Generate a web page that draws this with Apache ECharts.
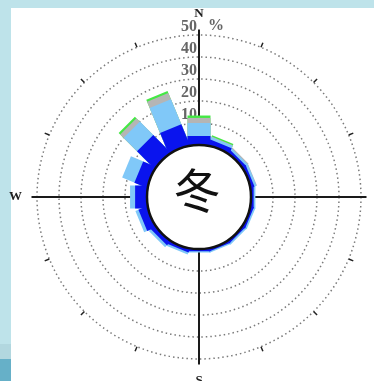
<!DOCTYPE html>
<html>
<head>
<meta charset="utf-8">
<script src="https://cdn.jsdelivr.net/npm/echarts@6/dist/echarts.min.js"></script>
<style>
  html, body { margin: 0; padding: 0; }
  body {
    width: 374px; height: 381px; position: relative; overflow: hidden;
    background: linear-gradient(to bottom, #bee3ea 0, #bee3ea 344px, #b2d7df 344px, #b2d7df 359px, #66b0c8 359px);
  }
  #panel { position: absolute; left: 11px; top: 8px; right: 0; bottom: 0; background: #fff; }
  #chart { position: absolute; left: 0; top: 0; width: 374px; height: 381px; }
</style>
</head>
<body>
<div id="panel"></div>
<div id="chart"></div>
<script>
// wind directions, clockwise from north
const directions = ['N', 'NNE', 'NE', 'ENE', 'E', 'ESE', 'SE', 'SSE', 'S', 'SSW', 'SW', 'WSW', 'W', 'WNW', 'NW', 'NNW']
const cardinals = ['N', 'E', 'S', 'W']
const season = '冬'

// frequency (%) per speed class, innermost first
const darkBlue  = [4.1, 2.5, 1.5, 1.5, 1.2, 1.2, 1.0, 1.0, 1.0, 1.5, 2.2, 4.0, 5.4, 6.0, 11.0, 10.0]
const lightBlue = [5.9, 1.2, 1.0, 1.0, 0.8, 0.8, 0.8, 0.6, 0.6, 1.0, 1.2, 1.5, 2.3, 6.0, 8.6, 12.3]
const gray      = [2.3, 0.3, 0.5, 0.2, 0, 0, 0, 0, 0, 0, 0, 0, 0, 0, 2.2, 3.1]
const green     = [1.1, 0.6, 0, 0, 0, 0, 0, 0, 0, 0, 0, 0, 0, 0, 1.0, 1.0]

const HALF_W = 11.5 // half bar width in px

const angles = directions.map((d, i) => i * 22.5)

// cumulative tops for stacking
const top1 = darkBlue
const top2 = top1.map((v, i) => v + lightBlue[i])
const top3 = top2.map((v, i) => v + gray[i])
const top4 = top3.map((v, i) => v + green[i])

function rectBar(color) {
  return function (params, api) {
    const seg = api.value(2)
    if (!seg) return null
    const ang = api.value(1)
    const top = api.value(0)
    const a = api.coord([0, ang])
    const b = api.coord([50, ang])
    const len = Math.hypot(b[0] - a[0], b[1] - a[1])
    const nx = -(b[1] - a[1]) / len * HALF_W
    const ny = (b[0] - a[0]) / len * HALF_W
    const p0 = api.coord([-1.5, ang])
    const p1 = api.coord([top, ang])
    return {
      type: 'polygon',
      shape: {
        points: [
          [p0[0] + nx, p0[1] + ny],
          [p1[0] + nx, p1[1] + ny],
          [p1[0] - nx, p1[1] - ny],
          [p0[0] - nx, p0[1] - ny]
        ]
      },
      style: { fill: color }
    }
  }
}

function barSeries(name, color, tops, seg) {
  return {
    type: 'custom',
    name: name,
    coordinateSystem: 'polar',
    dimensions: ['top', 'angle', 'seg'],
    encode: { radius: 0, angle: 1 },
    data: angles.map((a, i) => [tops[i], a, seg[i]]),
    renderItem: rectBar(color),
    silent: true
  }
}

const chart = echarts.init(document.getElementById('chart'))

chart.setOption({
  animation: false,
  polar: { center: [199, 197], radius: [52, 162] },
  angleAxis: {
    type: 'value',
    min: 0,
    max: 360,
    interval: 22.5,
    startAngle: 90,
    clockwise: true,
    axisLine: { show: false },
    splitLine: { show: false },
    axisTick: { show: true, length: 5, lineStyle: { color: '#222', width: 1.5 } },
    axisLabel: {
      margin: 15,
      fontFamily: 'Liberation Serif',
      fontWeight: 'bold',
      fontSize: 13,
      color: '#222',
      formatter: function (v) {
        if (v >= 360) return ''
        const name = directions[Math.round(v / 22.5)]
        return cardinals.indexOf(name) >= 0 ? name : ''
      }
    }
  },
  radiusAxis: {
    min: 0,
    max: 50,
    interval: 10,
    axisLine: { show: false },
    axisTick: { show: false },
    splitLine: { show: true, lineStyle: { color: '#7a7a7a', width: 1.5, type: [1.5, 3] } },
    axisLabel: {
      showMinLabel: false,
      margin: 2,
      verticalAlign: 'bottom',
      fontFamily: 'Liberation Serif',
      fontWeight: 'bold',
      fontSize: 16,
      color: '#666'
    }
  },
  series: [
    {
      type: 'custom',
      name: 'cross',
      coordinateSystem: 'polar',
      encode: { radius: 0, angle: 1 },
      data: [[52.5, 0], [52.5, 90], [52.5, 180], [52.5, 270]],
      renderItem: function (params, api) {
        const p0 = api.coord([0, api.value(1)])
        const p1 = api.coord([api.value(0), api.value(1)])
        return {
          type: 'line',
          shape: { x1: p0[0], y1: p0[1], x2: p1[0], y2: p1[1] },
          style: { stroke: '#1a1a1a', lineWidth: 2 }
        }
      },
      silent: true
    },
    barSeries('green', '#44e844', top4, green),
    barSeries('gray', '#b5b5b5', top3, gray),
    barSeries('light', '#80c8f8', top2, lightBlue),
    barSeries('dark', '#0a14ee', top1, darkBlue)
  ],
  graphic: [
    {
      type: 'circle',
      z: 100,
      shape: { cx: 199, cy: 197, r: 52 },
      style: { fill: '#fff', stroke: '#111', lineWidth: 2.5 }
    },
    {
      type: 'text',
      z: 101,
      x: 197,
      y: 190,
      style: {
        text: season,
        fontSize: 47,
        fontFamily: 'Noto Sans CJK SC',
        fill: '#111',
        align: 'center',
        verticalAlign: 'middle'
      }
    },
    {
      type: 'text',
      z: 101,
      x: 208,
      y: 34,
      style: {
        text: '%',
        fontSize: 16,
        fontFamily: 'Liberation Serif',
        fontWeight: 'bold',
        fill: '#666',
        verticalAlign: 'bottom'
      }
    }
  ]
})
</script>
</body>
</html>
